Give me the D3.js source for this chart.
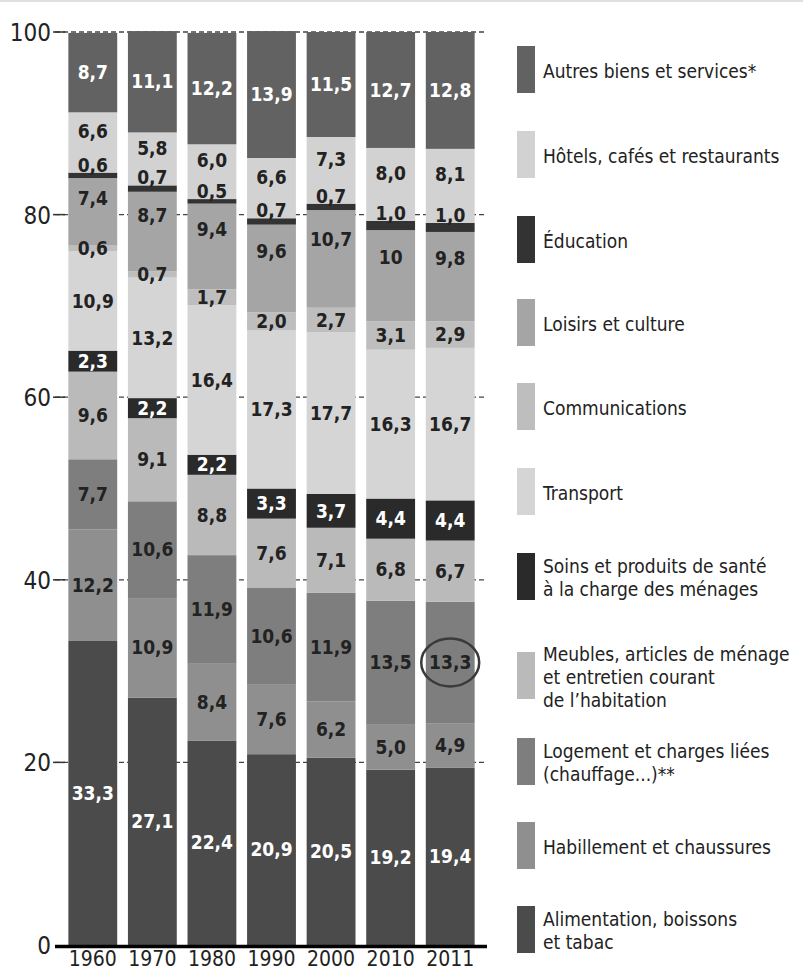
<!DOCTYPE html>
<html><head><meta charset="utf-8">
<script src="https://cdn.jsdelivr.net/npm/d3@7"></script>
<style>
html,body{margin:0;padding:0;background:#fff;}
svg{display:block;}
text{font-family:"DejaVu Sans Condensed","Liberation Sans Narrow","DejaVu Sans",sans-serif;}
</style></head>
<body>
<svg id="chart" width="803" height="977"></svg>
<script>
// ---- data ----
const years = ["1960","1970","1980","1990","2000","2010","2011"];
const categories = [
  "Alimentation, boissons\net tabac",
  "Habillement et chaussures",
  "Logement et charges liées\n(chauffage...)**",
  "Meubles, articles de ménage\net entretien courant\nde l’habitation",
  "Soins et produits de santé\nà la charge des ménages",
  "Transport",
  "Communications",
  "Loisirs et culture",
  "Éducation",
  "Hôtels, cafés et restaurants",
  "Autres biens et services*"
];
const alimentation   = [33.3, 27.1, 22.4, 20.9, 20.5, 19.2, 19.4];
const habillement    = [12.2, 10.9,  8.4,  7.6,  6.2,  5.0,  4.9];
const logement       = [ 7.7, 10.6, 11.9, 10.6, 11.9, 13.5, 13.3];
const meubles        = [ 9.6,  9.1,  8.8,  7.6,  7.1,  6.8,  6.7];
const sante          = [ 2.3,  2.2,  2.2,  3.3,  3.7,  4.4,  4.4];
const transport      = [10.9, 13.2, 16.4, 17.3, 17.7, 16.3, 16.7];
const communications = [ 0.6,  0.7,  1.7,  2.0,  2.7,  3.1,  2.9];
const loisirs        = [ 7.4,  8.7,  9.4,  9.6, 10.7, 10.0,  9.8];
const education      = [ 0.6,  0.7,  0.5,  0.7,  0.7,  1.0,  1.0];
const hotels         = [ 6.6,  5.8,  6.0,  6.6,  7.3,  8.0,  8.1];
const autres         = [ 8.7, 11.1, 12.2, 13.9, 11.5, 12.7, 12.8];
const yTicks = [0, 20, 40, 60, 80, 100];
const labelOverrides = {"2010|7": "10"};
const highlighted = {year: "2011", cat: 2};

const series = [alimentation, habillement, logement, meubles, sante, transport,
                communications, loisirs, education, hotels, autres];

// ---- style ----
const colors = ["#4b4b4b","#8f8f8f","#7e7e7e","#bababa","#2a2a2a","#d5d5d5",
                "#bebebe","#a5a5a5","#333333","#d2d2d2","#626262"];
const whiteText = [true,false,false,false,true,false,false,false,false,false,true];
const labelFrac = [0.5,0.5,0.5,0.5,0.5,0.5,0.5,0.7,0.5,0.5,0.5];
const legendTops = [906, 822, 738, 652, 553, 468, 383, 299, 216, 131, 46];

const svg = d3.select("#chart");
const x = d3.scaleBand().domain(years).range([63, 480]).paddingInner(0.18).paddingOuter(0.09);
const y = d3.scaleLinear().domain([0, 100]).range([945, 32]);

// top border
svg.append("line").attr("x1",0).attr("x2",803).attr("y1",1).attr("y2",1)
   .attr("stroke","#e0e0e0").attr("stroke-width",2);

// gridlines
svg.append("g").selectAll("line").data(yTicks.filter(d=>d>0)).join("line")
  .attr("x1",55).attr("x2",485).attr("y1",d=>y(d)).attr("y2",d=>y(d))
  .attr("stroke","#444").attr("stroke-width",1.3).attr("stroke-dasharray","5,3");

// y axis
const yAxis = d3.axisLeft(y).tickValues(yTicks).tickSize(0).tickPadding(0);
const gy = svg.append("g").attr("transform","translate(51,0)").call(yAxis);
gy.select(".domain").remove();
gy.selectAll("text").attr("font-size",24).attr("fill","#222").attr("dy","0.35em");
svg.append("g").selectAll("line").data(yTicks.filter(d=>d>0)).join("line")
  .attr("x1",53).attr("x2",65).attr("y1",d=>y(d)).attr("y2",d=>y(d))
  .attr("stroke","#333").attr("stroke-width",1.5);

// stack
const table = years.map((yr,i)=>{const o={year:yr}; series.forEach((s,k)=>o[k]=s[i]); return o;});
const stack = d3.stack().keys(series.map((s,k)=>k))(table);

const gBars = svg.append("g");
stack.forEach((layer,k)=>{
  gBars.selectAll(null).data(layer).join("rect")
    .attr("x",d=>x(d.data.year)).attr("width",x.bandwidth())
    .attr("y",d=>y(d[1])).attr("height",d=>y(d[0])-y(d[1]))
    .attr("fill",colors[k]);
});

// labels
const fmt = v => d3.format(".1f")(v).replace(".", ",");
const gLab = svg.append("g");
stack.forEach((layer,k)=>{
  layer.forEach(d=>{
    const yr = d.data.year;
    const txt = labelOverrides[yr+"|"+k] || fmt(d[1]-d[0]);
    const top = y(d[1]), bot = y(d[0]);
    let ty, dy = "0.35em";
    if (k === 8) { ty = top - 1; dy = "0"; }
    else if (k === 9) { ty = (top + bot - 22)/2; }
    else { ty = bot - (bot-top)*labelFrac[k]; }
    gLab.append("text")
      .attr("x", x(yr)+x.bandwidth()/2).attr("y", ty).attr("dy", dy)
      .attr("text-anchor","middle").attr("font-size",19).attr("font-weight","bold")
      .attr("fill", whiteText[k] ? "#fff" : "#222")
      .text(txt);
  });
});

// highlight ellipse
{
  const k = highlighted.cat, i = years.indexOf(highlighted.year);
  const d = stack[k][i];
  svg.append("ellipse")
    .attr("cx", x(highlighted.year)+x.bandwidth()/2)
    .attr("cy", (y(d[0])+y(d[1]))/2)
    .attr("rx", 29).attr("ry", 24)
    .attr("fill","none").attr("stroke","#3a3a3a").attr("stroke-width",2.5);
}

// baseline
svg.append("line").attr("x1",55).attr("x2",487).attr("y1",946.5).attr("y2",946.5)
  .attr("stroke","#000").attr("stroke-width",3.5);

// x axis labels
const xAxis = d3.axisBottom(x).tickSize(0).tickPadding(0);
const gx = svg.append("g").attr("transform","translate(0,950)").call(xAxis);
gx.select(".domain").remove();
gx.selectAll("text").attr("font-size",21).attr("fill","#222").attr("dy","0.75em");

// legend
const gLeg = svg.append("g");
categories.forEach((c,k)=>{
  const t = legendTops[k];
  gLeg.append("rect").attr("x",517).attr("y",t).attr("width",18).attr("height",47).attr("fill",colors[k]);
  const lines = c.split("\n");
  const cy = t + 25;
  const lh = 23;
  const tx = gLeg.append("text").attr("x",543).attr("font-size",19).attr("fill","#222");
  lines.forEach((ln,j)=>{
    tx.append("tspan").attr("x",543)
      .attr("y", cy + (j - (lines.length-1)/2)*lh).attr("dy","0.35em").text(ln);
  });
});
</script>
</body></html>
